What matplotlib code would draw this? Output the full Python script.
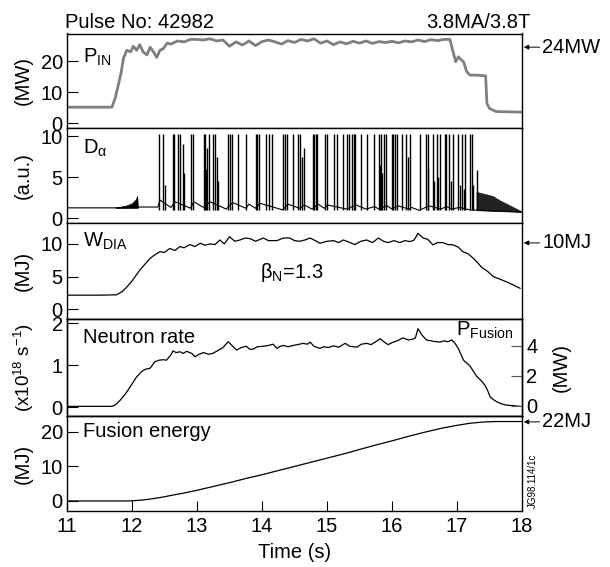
import matplotlib
matplotlib.use("Agg")

import matplotlib.pyplot as plt
import numpy as np


plt.rcParams["font.family"] = ["Liberation Sans", "DejaVu Sans"]
plt.rcParams["mathtext.fontset"] = "custom"
plt.rcParams["mathtext.rm"] = "Liberation Sans"
plt.rcParams["mathtext.it"] = "Liberation Sans:italic"
plt.rcParams["mathtext.bf"] = "Liberation Sans:bold"

# ---- data (time in s) ----
P_IN = [
    (11.0, 5.2), (11.69, 5.2), (11.74, 8.0), (11.78, 11.5), (11.83, 16.0),
    (11.87, 21.0), (11.92, 23.5), (11.98, 23.0), (12.02, 24.8), (12.07, 23.5),
    (12.12, 25.3), (12.17, 23.0), (12.23, 22.0), (12.28, 24.5), (12.33, 23.0),
    (12.38, 21.2), (12.43, 23.5), (12.48, 24.0), (12.54, 25.8), (12.6, 25.5),
    (12.7, 26.5), (12.8, 26.2), (12.9, 27.0), (13.0, 27.0), (13.1, 26.8),
    (13.2, 27.2), (13.3, 26.5), (13.4, 26.8), (13.5, 24.8), (13.6, 26.2),
    (13.7, 25.2), (13.8, 26.5), (13.9, 25.0), (14.0, 26.3), (14.1, 26.8),
    (14.2, 26.2), (14.3, 25.5), (14.4, 26.6), (14.5, 26.0), (14.6, 27.0),
    (14.7, 26.5), (14.8, 27.2), (14.9, 25.8), (15.0, 26.5), (15.1, 25.3),
    (15.2, 26.2), (15.3, 25.6), (15.4, 26.4), (15.5, 25.8), (15.6, 26.5),
    (15.7, 25.7), (15.8, 26.3), (15.9, 26.0), (16.0, 26.4), (16.1, 25.9),
    (16.2, 26.5), (16.3, 26.2), (16.4, 26.8), (16.5, 26.3), (16.6, 26.9),
    (16.7, 26.6), (16.8, 27.0), (16.89, 27.0), (16.94, 23.0), (16.98, 19.8),
    (17.02, 21.4), (17.06, 20.5), (17.1, 19.8), (17.15, 16.6), (17.2, 15.5),
    (17.3, 15.5), (17.44, 15.3), (17.46, 6.4), (17.5, 4.8), (17.6, 3.8),
    (18.0, 3.6),
]

# D-alpha: slowly varying baseline, ELM spikes (time, peak), grassy envelopes
DA_BASE = [
    (11.0, 1.25), (11.75, 1.25), (12.1, 1.35), (12.4, 1.35), (12.43, 2.2),
    (12.6, 1.3), (12.66, 2.0), (12.9, 1.2), (12.95, 2.0), (13.1, 1.3),
    (13.2, 2.0), (13.45, 1.1), (13.55, 1.9), (13.75, 1.2), (13.8, 1.7),
    (13.9, 1.2), (13.97, 1.8), (14.32, 1.0), (14.4, 1.7), (14.58, 1.2),
    (14.65, 1.6), (14.77, 1.1), (14.86, 1.7), (14.96, 1.2), (15.01, 1.6),
    (15.3, 1.1), (15.45, 1.6), (15.6, 1.1), (15.73, 1.4), (15.8, 1.1),
    (15.92, 1.5), (16.0, 1.1), (16.09, 1.5), (16.26, 1.1), (16.3, 1.3),
    (16.42, 0.95), (16.57, 1.5), (16.75, 1.1), (16.84, 1.4), (16.93, 1.1),
    (17.03, 1.3), (17.2, 1.0), (17.5, 0.9), (18.0, 0.75),
]
ELM_T = [
    12.42, 12.48, 12.63, 12.65, 12.71, 12.74, 12.78, 12.91, 12.94, 13.11,
    13.13, 13.16, 13.19, 13.25, 13.28, 13.31, 13.48, 13.51, 13.54, 13.63,
    13.76, 13.90, 13.93, 13.96, 14.06, 14.11, 14.16, 14.33, 14.36, 14.39,
    14.48, 14.55, 14.58, 14.64, 14.78, 14.80, 14.83, 14.85, 14.97, 15.00,
    15.10, 15.16, 15.24, 15.31, 15.34, 15.38, 15.42, 15.43, 15.52, 15.62,
    15.72, 15.80, 15.83, 15.87, 15.91, 16.00, 16.02, 16.05, 16.08, 16.15,
    16.22, 16.27, 16.43, 16.53, 16.56, 16.63, 16.69, 16.74, 16.82, 16.83,
    16.88, 16.94, 17.02, 17.07, 17.12, 17.20, 17.23, 17.30,
    12.50, 12.80, 13.14, 13.33, 14.62, 15.81, 15.85, 16.24, 16.55, 16.64,
    16.70, 16.90, 17.04, 17.10, 17.25,
]
ELM_PEAK = [
    10.3, 10.3, 10.3, 10.3, 10.3, 10.3, 9.0, 10.3, 10.3, 10.3,
    10.3, 8.5, 10.3, 10.3, 10.3, 7.5, 10.3, 10.3, 10.3, 10.3,
    10.3, 10.3, 10.3, 10.3, 10.3, 10.3, 10.3, 10.3, 10.3, 10.3,
    10.3, 10.3, 10.3, 8.6, 10.3, 10.3, 10.3, 10.3, 10.3, 10.3,
    10.3, 10.3, 10.3, 10.3, 10.3, 10.3, 10.3, 10.3, 10.3, 10.3,
    10.3, 10.3, 10.3, 10.3, 10.3, 10.3, 10.3, 10.3, 10.3, 10.3,
    10.3, 10.3, 10.3, 10.3, 10.3, 10.3, 10.3, 10.3, 10.3, 10.3,
    10.3, 10.3, 10.3, 10.3, 10.3, 10.3, 10.3, 5.9,
    4.0, 5.5, 6.0, 4.5, 7.5, 6.5, 5.5, 7.5, 6.0, 4.5,
    5.0, 4.5, 4.0, 3.5, 4.0,
]
DA_PRE_GRASS = [(11.75, 1.3), (11.9, 1.5), (12.0, 1.8), (12.06, 2.3), (12.08, 2.7), (12.09, 1.4)]
DA_END_GRASS = [(17.3, 3.2), (17.45, 2.9), (17.55, 2.7), (17.65, 2.2), (17.75, 1.8),
                (17.85, 1.4), (17.95, 1.0), (18.0, 0.8)]

W_DIA = [
    (11.0, 2.15), (11.5, 2.15), (11.76, 2.2), (11.85, 2.7), (11.92, 3.4),
    (12.0, 4.3), (12.12, 6.0), (12.2, 6.9), (12.28, 7.8), (12.36, 8.4),
    (12.43, 8.8), (12.5, 8.7), (12.58, 9.3), (12.66, 9.0), (12.74, 9.6),
    (12.8, 9.4), (12.89, 9.9), (12.97, 9.6), (13.05, 10.1), (13.12, 9.8),
    (13.2, 10.0), (13.28, 9.9), (13.35, 10.6), (13.42, 10.0), (13.5, 11.1),
    (13.58, 10.4), (13.66, 10.6), (13.74, 10.9), (13.82, 10.8), (13.9, 10.4),
    (14.02, 10.9), (14.1, 10.5), (14.23, 10.5), (14.33, 10.9), (14.43, 10.9),
    (14.5, 10.5), (14.58, 10.4), (14.66, 10.6), (14.74, 10.9), (14.82, 10.5),
    (14.89, 10.1), (15.0, 10.4), (15.1, 10.5), (15.18, 10.2), (15.25, 10.6),
    (15.33, 10.3), (15.43, 9.9), (15.52, 10.4), (15.61, 10.6), (15.7, 10.2),
    (15.79, 10.9), (15.87, 10.4), (15.94, 10.2), (16.03, 10.5), (16.12, 10.2),
    (16.2, 10.5), (16.28, 10.35), (16.34, 10.6), (16.4, 11.6), (16.48, 10.9),
    (16.55, 10.7), (16.63, 9.85), (16.7, 10.2), (16.78, 10.2), (16.86, 9.9),
    (16.94, 9.85), (17.02, 9.5), (17.09, 8.8), (17.17, 8.5), (17.25, 7.8),
    (17.32, 7.1), (17.38, 6.4), (17.47, 5.8), (17.56, 5.0), (17.66, 4.6),
    (17.76, 4.2), (17.87, 3.7), (17.97, 3.2),
]

NEUTRON = [
    (11.0, 0.02), (11.69, 0.02), (11.75, 0.06), (11.82, 0.17), (11.9, 0.32),
    (11.97, 0.48), (12.07, 0.72), (12.15, 0.85), (12.2, 0.9), (12.28, 0.93),
    (12.35, 1.08), (12.42, 1.12), (12.48, 1.13), (12.53, 1.12), (12.6, 1.25),
    (12.63, 1.34), (12.68, 1.3), (12.74, 1.32), (12.79, 1.28), (12.84, 1.33),
    (12.92, 1.28), (12.97, 1.2), (13.03, 1.26), (13.1, 1.3), (13.18, 1.26),
    (13.24, 1.28), (13.3, 1.33), (13.4, 1.42), (13.48, 1.56), (13.55, 1.45),
    (13.61, 1.36), (13.68, 1.42), (13.76, 1.45), (13.81, 1.38), (13.86, 1.38),
    (13.93, 1.44), (14.02, 1.45), (14.1, 1.47), (14.17, 1.5), (14.23, 1.4),
    (14.28, 1.45), (14.33, 1.47), (14.4, 1.44), (14.48, 1.47), (14.55, 1.49),
    (14.63, 1.52), (14.7, 1.5), (14.74, 1.55), (14.8, 1.45), (14.89, 1.4),
    (14.95, 1.44), (15.02, 1.42), (15.1, 1.46), (15.18, 1.43), (15.28, 1.52),
    (15.35, 1.45), (15.46, 1.43), (15.53, 1.5), (15.61, 1.52), (15.68, 1.49),
    (15.75, 1.56), (15.82, 1.63), (15.88, 1.55), (15.94, 1.49), (16.02, 1.55),
    (16.08, 1.58), (16.17, 1.65), (16.25, 1.6), (16.32, 1.62), (16.36, 1.65),
    (16.4, 1.87), (16.46, 1.72), (16.53, 1.6), (16.6, 1.58), (16.67, 1.56),
    (16.74, 1.55), (16.8, 1.58), (16.86, 1.56), (16.92, 1.6), (16.97, 1.52),
    (17.02, 1.4), (17.1, 1.12), (17.2, 0.98), (17.3, 0.74), (17.38, 0.62),
    (17.43, 0.52), (17.47, 0.4), (17.51, 0.25), (17.56, 0.18), (17.61, 0.13),
    (17.7, 0.07), (17.76, 0.05), (17.97, 0.02),
]

FUSION_ENERGY = [
    (11.0, 0.0), (11.9, 0.0), (12.0, 0.05), (12.15, 0.25), (12.3, 0.6),
    (12.45, 1.05), (12.6, 1.6), (12.8, 2.3), (13.0, 3.1), (13.25, 4.2),
    (13.5, 5.3), (13.75, 6.5), (14.0, 7.6), (14.25, 8.8), (14.5, 10.0),
    (14.75, 11.2), (15.0, 12.4), (15.25, 13.6), (15.5, 14.9), (15.75, 16.2),
    (16.0, 17.4), (16.25, 18.7), (16.5, 19.9), (16.75, 21.0), (17.0, 21.9),
    (17.2, 22.5), (17.4, 22.85), (17.6, 23.0), (18.0, 23.0),
]

X_TICKS = [11, 12, 13, 14, 15, 16, 17, 18]
FS = 14.5


def xy(pairs):
    arr = np.array(pairs, dtype=float)
    return arr[:, 0], arr[:, 1]


def style_axes(ax, ylim, yticks, ylabel, label_x=-0.075, label_fs=FS):
    ax.set_xlim(11, 18)
    ax.set_ylim(*ylim)
    ax.set_yticks(yticks)
    ax.set_xticks(X_TICKS)
    for sp in ax.spines.values():
        sp.set_linewidth(1.0)
    ax.tick_params(axis="y", direction="in", length=8, width=0.8,
                   labelsize=FS, pad=3)
    ax.tick_params(axis="x", bottom=False, labelbottom=False)
    ax.set_ylabel(ylabel, fontsize=label_fs)
    ax.yaxis.set_label_coords(label_x, 0.5)


def arrow_note(ax, text, value):
    ax.annotate(text, xy=(1.004, value), xycoords=ax.get_yaxis_transform(),
                xytext=(1.045, value), textcoords=ax.get_yaxis_transform(),
                fontsize=FS, va="center", ha="left", annotation_clip=False,
                arrowprops=dict(arrowstyle="-|>", lw=0.7, color="black",
                                shrinkA=0, shrinkB=0, mutation_scale=7))


fig = plt.figure(figsize=(6.1, 5.67), dpi=100)
left, width = 67 / 610, 455 / 610
rows = [(33.5, 128), (128, 223), (223, 319), (319, 416), (416, 511)]
axes = [fig.add_axes([left, 1 - b / 567, width, (b - t) / 567]) for t, b in rows]
ax1, ax2, ax3, ax4, ax5 = axes

# panel 1: input power
t, v = xy(P_IN)
ax1.plot(t, v, color="#7f7f7f", lw=2.0)
style_axes(ax1, (-1.5, 28.9), [0, 10, 20], "(MW)")
ax1.text(11.25, 19.4, r"P$_{\mathrm{IN}}$", fontsize=FS)
arrow_note(ax1, "24MW", 24.5)
ax1.text(-0.005, 1.02, "Pulse No: 42982", transform=ax1.transAxes,
         fontsize=FS, ha="left", va="bottom")
ax1.text(1.018, 1.02, "3.8MA/3.8T", transform=ax1.transAxes,
         fontsize=FS, ha="right", va="bottom")

# panel 2: D-alpha
t, v = xy(DA_BASE)
ax2.plot(t, v, color="black", lw=0.8)
ax2.vlines(ELM_T, 1.0, ELM_PEAK, color="black", lw=1.0)
gt, gv = xy(DA_PRE_GRASS)
ax2.fill_between(gt, 1.25, gv, color="black", lw=0.5)
gt, gv = xy(DA_END_GRASS)
ax2.fill_between(gt, np.interp(gt, t, v), gv, color="#222222", lw=0.5)
style_axes(ax2, (-0.6, 11.0), [0, 5, 10], "(a.u.)")
ax2.text(11.25, 7.9, r"D$_{\mathrm{α}}$", fontsize=FS)

# panel 3: diamagnetic energy
t, v = xy(W_DIA)
ax3.plot(t, v, color="black", lw=0.9)
style_axes(ax3, (-1.5, 13.2), [0, 5, 10], "(MJ)")
ax3.text(11.25, 9.6, r"W$_{\mathrm{DIA}}$", fontsize=FS)
ax3.text(13.97, 4.8, r"β$_{\mathrm{N}}$=1.3", fontsize=FS)
arrow_note(ax3, "10MJ", 10.15)

# panel 4: neutron rate / fusion power
t, v = xy(NEUTRON)
ax4.plot(t, v, color="black", lw=0.9)
style_axes(ax4, (-0.21, 2.1), [0, 1, 2], r"(x10$^{18}$ s$^{-1}$)",
           label_x=-0.068, label_fs=13.5)
ax4.text(11.25, 1.52, "Neutron rate", fontsize=FS)
ax4.text(16.99, 1.71, r"P$_{\mathrm{Fusion}}$", fontsize=FS)
ax4r = ax4.twinx()
ax4r.set_ylim(-0.7, 5.77)
ax4r.set_yticks([0, 2, 4])
ax4r.tick_params(axis="y", direction="in", length=8, width=0.8,
                 color="#555555", labelsize=FS, pad=3)
ax4r.set_ylabel("(MW)", fontsize=FS, rotation=90)
ax4r.yaxis.set_label_coords(1.065, 0.5)
for sp in ax4r.spines.values():
    sp.set_linewidth(1.0)

# panel 5: fusion energy
t, v = xy(FUSION_ENERGY)
ax5.plot(t, v, color="black", lw=0.9)
style_axes(ax5, (-2.9, 24.6), [0, 10, 20], "(MJ)")
ax5.tick_params(axis="x", bottom=True, labelbottom=True, direction="in",
                length=7.5, width=0.8, labelsize=FS, pad=4)
ax5.set_xlabel("Time (s)", fontsize=FS, labelpad=5)
ax5.text(11.25, 18.5, "Fusion energy", fontsize=FS)
arrow_note(ax5, "22MJ", 22.9)

fig.text(533 / 610, 1 - 481 / 567, "JG98.114/1c", rotation=90, fontsize=7,
         ha="center", va="center")

fig.savefig("out.png", dpi=100)
plt.close(fig)
